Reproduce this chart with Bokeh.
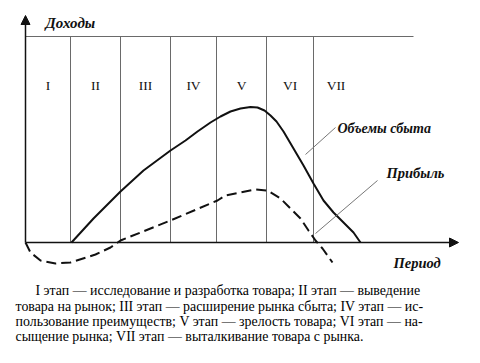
from bokeh.plotting import figure
from bokeh.models import Range1d, Arrow, NormalHead
from bokeh.core.properties import value
from bokeh.embed import file_html
from bokeh.resources import INLINE

# ---- data (period units along x, income units along y) ----
stage_labels = ["I", "II", "III", "IV", "V", "VI", "VII"]
stage_edges = [0, 45, 95, 145, 191, 241, 288]
top_line_end = 388
top_line_level = 206

sales_x = [46, 68, 95, 118, 145, 160, 172, 185, 195, 205, 215, 225, 232, 239, 245, 251, 258, 268, 278, 288, 298, 308, 318, 328, 335]
sales_y = [0, 24, 51, 72, 92, 102, 111, 120, 126, 131, 134, 135.5, 135, 132, 127, 121, 111, 94, 77, 59, 42, 30, 20, 10, 0]

profit_x = [0, 5, 15, 30, 45, 70, 85, 95, 145, 192, 200, 215, 230, 242, 255, 265, 275, 283, 290, 297, 307]
profit_y = [0, -10, -18, -21, -20, -12, -5, 2, 22, 42, 47, 50, 53, 52, 44, 34, 24, 12, 2, -6, -20]

caption_lines = [
    "I этап — исследование и разработка товара; II этап — выведение",
    "товара на рынок; III этап — расширение рынка сбыта; IV этап — ис-",
    "пользование преимуществ; V этап — зрелость товара; VI этап — на-",
    "сыщение рынка; VII этап — выталкивание товара с рынка.",
]

W, H = 464, 347
p = figure(width=W, height=H, output_backend="svg", toolbar_location=None,
           x_range=Range1d(-25, 439), y_range=Range1d(-105, 242),
           min_border=0, outline_line_color=None)
p.axis.visible = False
p.grid.visible = False
p.background_fill_color = "white"

serif = value("Liberation Serif")
grid_col = "#6a6a6a"

# stage grid
for e in stage_edges[1:]:
    p.segment(x0=e, y0=0, x1=e, y1=top_line_level, line_color=grid_col, line_width=1)
p.segment(x0=0, y0=top_line_level, x1=top_line_end, y1=top_line_level, line_color=grid_col, line_width=1)

# stage labels
ends = stage_edges[1:] + [stage_edges[-1] + 45]
lx = [(a + b) / 2 for a, b in zip(stage_edges, ends)]
p.text(x=lx, y=[157] * len(lx), text=stage_labels, text_font=serif, text_font_size="13.5px",
       text_align="center", text_baseline="middle", text_color="#111")

# axes with arrows
p.add_layout(Arrow(x_start=0, y_start=0, x_end=0, y_end=227, line_width=1.5, line_color="#111",
                   end=NormalHead(size=9, fill_color="#111", line_color="#111")))
p.add_layout(Arrow(x_start=0, y_start=0, x_end=433, y_end=0, line_width=1.5, line_color="#111",
                   end=NormalHead(size=9, fill_color="#111", line_color="#111")))

# curves
p.line(sales_x, sales_y, line_color="#111", line_width=2)
p.line(profit_x, profit_y, line_color="#111", line_width=2, line_dash="10 5")

# leader lines
p.segment(x0=[280, 290], y0=[88, 9], x1=[310, 352], y1=[115, 62], line_color="#777", line_width=1)

# labels
lab = dict(text_font=serif, text_font_style="bold italic", text_baseline="middle", text_color="#111")
p.text(x=[20], y=[220], text=["Доходы"], text_font_size="15px", **lab)
p.text(x=[312], y=[114], text=["Объемы сбыта"], text_font_size="14px", **lab)
p.text(x=[361], y=[70], text=["Прибыль"], text_font_size="14.5px", **lab)
p.text(x=[368], y=[-20], text=["Период"], text_font_size="14.5px", **lab)

# caption
cap_x = [10, -10, -10, -10]
cap_y = [-48, -64, -79, -94]
p.text(x=cap_x, y=cap_y, text=caption_lines, text_font=serif, text_font_size="13.9px",
       text_baseline="middle", text_color="#000")

open("out.html", "w").write(file_html(p, INLINE))
